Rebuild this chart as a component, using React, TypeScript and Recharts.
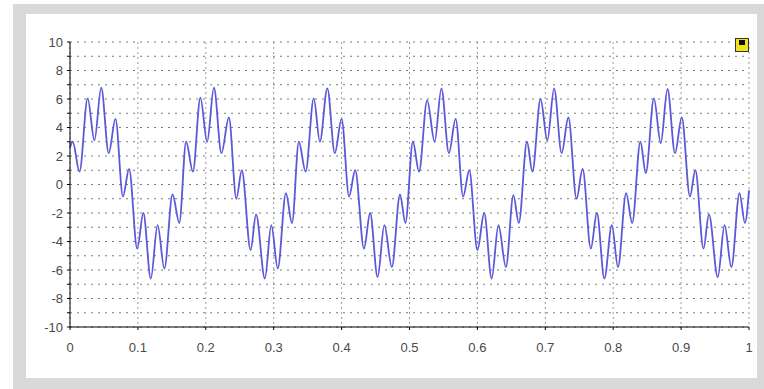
import React from 'react';
import { LineChart, Line, XAxis, YAxis, CartesianGrid } from 'recharts';

const timeValues: number[] = [
  0, 0.004, 0.014, 0.026, 0.036, 0.046, 0.057, 0.067, 0.078, 0.087, 0.099, 0.108, 0.119, 0.129, 0.139, 0.151, 0.161,
  0.171, 0.181, 0.192, 0.202, 0.212, 0.223, 0.234, 0.245, 0.253, 0.266, 0.274, 0.287, 0.2965, 0.306, 0.318, 0.327,
  0.337, 0.347, 0.359, 0.368, 0.379, 0.39, 0.4, 0.411, 0.42, 0.433, 0.442, 0.453, 0.463, 0.474, 0.486, 0.494,
  0.505, 0.514, 0.526, 0.537, 0.547, 0.558, 0.568, 0.579, 0.588, 0.6, 0.61, 0.621, 0.631, 0.642, 0.653, 0.661,
  0.673, 0.681, 0.693, 0.703, 0.713, 0.724, 0.734, 0.746, 0.755, 0.767, 0.776, 0.787, 0.798, 0.807, 0.819, 0.828,
  0.84, 0.848, 0.86, 0.87, 0.88, 0.891, 0.901, 0.913, 0.921, 0.933, 0.941, 0.954, 0.964, 0.974, 0.986, 0.994, 1.0,
];

const signalValues: number[] = [
  2.6, 3.0, 0.9, 6.05, 3.1, 6.8, 2.2, 4.6, -0.85, 1.1, -4.5, -2.0, -6.6, -2.85, -5.9, -0.7, -2.7,
  3.0, 0.9, 6.1, 3.0, 6.8, 2.2, 4.7, -1.0, 1.0, -4.6, -2.1, -6.6, -2.85, -5.9, -0.6, -2.7,
  3.0, 0.9, 6.05, 3.0, 6.75, 2.2, 4.6, -0.85, 1.0, -4.5, -2.0, -6.5, -2.85, -5.8, -0.7, -2.7,
  3.0, 0.9, 5.9, 3.0, 6.75, 2.2, 4.6, -0.85, 1.0, -4.6, -2.0, -6.6, -2.85, -5.8, -0.75, -2.7,
  3.0, 0.9, 6.0, 3.1, 6.75, 2.2, 4.7, -1.0, 1.1, -4.5, -2.0, -6.6, -2.85, -5.8, -0.6, -2.7,
  3.0, 0.8, 6.05, 2.9, 6.7, 2.2, 4.7, -0.85, 1.0, -4.5, -2.1, -6.5, -2.85, -5.8, -0.6, -2.7, -0.4,
];

const xTicks: number[] = [0, 0.1, 0.2, 0.3, 0.4, 0.5, 0.6, 0.7, 0.8, 0.9, 1];
const xTickLabels: string[] = ['0', '0.1', '0.2', '0.3', '0.4', '0.5', '0.6', '0.7', '0.8', '0.9', '1'];
const yTicks: number[] = [-10, -9, -8, -7, -6, -5, -4, -3, -2, -1, 0, 1, 2, 3, 4, 5, 6, 7, 8, 9, 10];
const yLabelTicks: number[] = [-10, -8, -6, -4, -2, 0, 2, 4, 6, 8, 10];

const data = timeValues.map((t, i) => ({ t, v: signalValues[i] }));

const tickStyle = { fontFamily: 'Liberation Sans, Arial, sans-serif', fontSize: 13, fill: '#4a4a4a' };

export default function App() {
  return (
    <div style={{ position: 'absolute', left: 0, top: 0, width: 764, height: 389, background: '#fff', overflow: 'hidden' }}>
      <div style={{ position: 'absolute', left: 13, top: 4, width: 751, height: 385, background: '#d9d9d9' }} />
      <div style={{ position: 'absolute', left: 26, top: 14, width: 731, height: 364, background: '#ffffff' }} />
      <div style={{ position: 'absolute', left: 0 }}>
        <LineChart width={764} height={389} data={data} margin={{ top: 42, right: 15, bottom: 0, left: 0 }}>
          <CartesianGrid horizontal={true} vertical={false} stroke="#7a7a7a" strokeDasharray="2 5" yAxisId="main" />
          <CartesianGrid horizontal={false} vertical={true} stroke="#9a9a9a" strokeDasharray="2 3" xAxisId="main" />
          <XAxis
            xAxisId="main"
            dataKey="t"
            type="number"
            domain={[0, 1]}
            ticks={xTicks}
            tickFormatter={(v: number) => xTickLabels[xTicks.indexOf(v)] ?? String(v)}
            height={62}
            tickSize={3}
            tickMargin={13}
            stroke="#000"
            tick={tickStyle}
            interval={0}
          />
          <XAxis xAxisId="top" orientation="top" type="number" domain={[0, 1]} height={0} tick={false} tickLine={false} stroke="#555" strokeWidth={2.5} />
          <YAxis
            yAxisId="main"
            type="number"
            domain={[-10, 10]}
            ticks={yTicks}
            tickFormatter={(v: number) => (yLabelTicks.includes(v) ? String(v) : '')}
            width={70}
            tickSize={3}
            tickMargin={4}
            stroke="#000"
            tick={tickStyle}
            interval={0}
          />
          <YAxis yAxisId="right" orientation="right" type="number" domain={[-10, 10]} width={0} tick={false} tickLine={false} stroke="#000" strokeWidth={1.5} />
          <Line
            xAxisId="main"
            yAxisId="main"
            type="monotone"
            dataKey="v"
            stroke="#5a5ad8"
            strokeWidth={1.8}
            dot={false}
            isAnimationActive={false}
          />
        </LineChart>
      </div>
      <div style={{ position: 'absolute', left: 735, top: 38, width: 12, height: 12, background: '#f2e21c', border: '1.5px solid #333' }}>
        <div style={{ position: 'absolute', left: 3, top: 1, width: 6, height: 5, background: '#111' }} />
      </div>
    </div>
  );
}
